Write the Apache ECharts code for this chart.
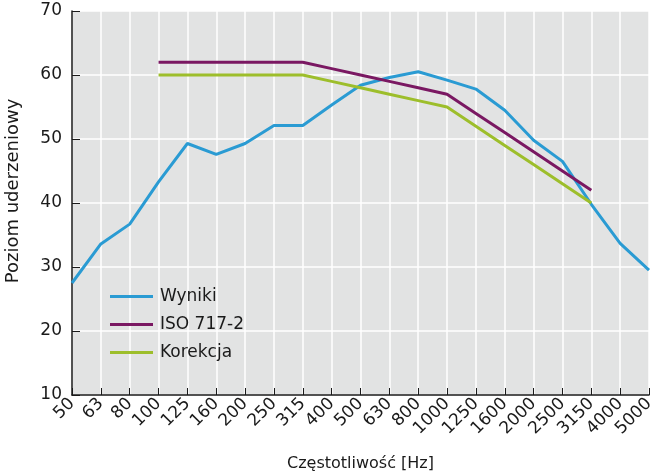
<!DOCTYPE html>
<html>
<head>
<meta charset="utf-8">
<script src="https://cdn.jsdelivr.net/npm/echarts@6/dist/echarts.min.js"></script>
<style>
  html, body { margin: 0; padding: 0; background: #fff; }
  #chart { width: 670px; height: 474px; }
</style>
</head>
<body>
<div id="chart"></div>
<script>
// pasma tercjowe [Hz]
const freqs = ["50", "63", "80", "100", "125", "160", "200", "250", "315", "400", "500",
  "630", "800", "1000", "1250", "1600", "2000", "2500", "3150", "4000", "5000"];
const wyniki = [27.5, 33.6, 36.7, 43.3, 49.3, 47.6, 49.3, 52.1, 52.1, 55.3, 58.4,
  59.6, 60.5, 59.2, 57.8, 54.5, 49.8, 46.5, 39.8, 33.7, 29.5];
const iso = [null, null, null, 62, 62, 62, 62, 62, 62, 61, 60,
  59, 58, 57, 54, 51, 48, 45, 42, null, null];
const korekcja = [null, null, null, 60, 60, 60, 60, 60, 60, 59, 58,
  57, 56, 55, 52, 49, 46, 43, 40, null, null];
const yTicks = [10, 20, 30, 40, 50, 60, 70];

const font = "DejaVu Sans";
const chart = echarts.init(document.getElementById("chart"));

const line = (name, data, color) => ({
  name: name,
  type: "line",
  data: data,
  symbol: "none",
  lineStyle: { width: 3, color: color },
  itemStyle: { color: color },
  animation: false
});

chart.setOption({
  textStyle: { fontFamily: font, color: "#1a1a1a" },
  grid: {
    left: 72, right: 21, top: 11, bottom: 79,
    outerBoundsMode: "none",
    show: true, backgroundColor: "#e2e3e3", borderWidth: 0
  },
  legend: {
    orient: "vertical",
    left: 110, top: 288, padding: 0,
    itemWidth: 43, itemHeight: 3, itemGap: 11,
    icon: "rect",
    textStyle: { fontFamily: font, fontSize: 17, color: "#1a1a1a", padding: [0, 0, 0, 2] },
    data: ["Wyniki", "ISO 717-2", "Korekcja"]
  },
  xAxis: {
    type: "category",
    data: freqs,
    boundaryGap: false,
    name: "Częstotliwość [Hz]",
    nameLocation: "middle",
    nameGap: 61,
    nameTextStyle: { fontFamily: font, fontSize: 16, color: "#1a1a1a" },
    axisLine: { lineStyle: { color: "#1a1a1a", width: 1.5 } },
    axisTick: { inside: true, length: 7, lineStyle: { color: "#1a1a1a" } },
    axisLabel: { rotate: 45, fontSize: 17, color: "#1a1a1a", margin: 6, interval: 0 },
    splitLine: { show: true, lineStyle: { color: "#ffffff", width: 1.5 } }
  },
  yAxis: {
    type: "value",
    min: yTicks[0],
    max: yTicks[yTicks.length - 1],
    interval: 10,
    name: "Poziom uderzeniowy",
    nameLocation: "middle",
    nameGap: 50,
    nameTextStyle: { fontFamily: font, fontSize: 18, color: "#1a1a1a", padding: [0, 0, 0, 24] },
    axisLine: { show: true, lineStyle: { color: "#1a1a1a", width: 1.5 } },
    axisTick: { show: true, inside: true, length: 8, lineStyle: { color: "#1a1a1a" } },
    axisLabel: { fontSize: 17, color: "#1a1a1a", margin: 10 },
    splitLine: { show: true, lineStyle: { color: "#ffffff", width: 1.5 } }
  },
  series: [
    line("Wyniki", wyniki, "#2a9bd3"),
    line("ISO 717-2", iso, "#7a1862"),
    line("Korekcja", korekcja, "#9dbe2b")
  ]
});
</script>
</body>
</html>
